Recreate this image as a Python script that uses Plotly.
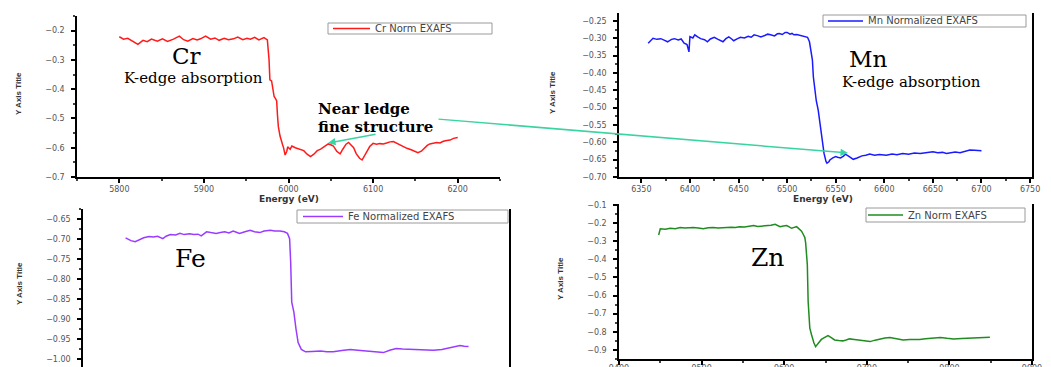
import plotly.graph_objects as go

# ---------------- data ----------------
cr_energy = [5800,5805,5810,5815,5822,5828,5833,5838,5845,5851,5857,5864,5871,5876,5881,5887,5892,5896,5902,5908,
             5913,5918,5924,5929,5935,5940,5946,5951,5955,5960,5965,5971,5975,5977,5978,5980,5981,5983,5985,5986,
             5987,5988,5990,5991,5993,5994,5996,5998,5999,6002,6004,6008,6011,6014,6018,6022,6026,6030,6034,6038,
             6042,6047,6050,6053,6057,6061,6064,6068,6071,6074,6077,6080,6084,6087,6090,6093,6096,6100,6104,6108,
             6112,6116,6120,6124,6128,6132,6136,6140,6145,6149,6153,6157,6161,6164,6167,6171,6175,6179,6183,6187,
             6191,6195,6200]
cr_norm = [-0.221,-0.229,-0.226,-0.236,-0.247,-0.233,-0.238,-0.229,-0.236,-0.228,-0.237,-0.229,-0.219,-0.231,-0.236,
           -0.227,-0.232,-0.228,-0.219,-0.229,-0.225,-0.233,-0.226,-0.231,-0.228,-0.222,-0.231,-0.226,-0.229,-0.223,
           -0.232,-0.224,-0.232,-0.299,-0.368,-0.372,-0.392,-0.425,-0.434,-0.440,-0.490,-0.528,-0.560,-0.573,-0.590,
           -0.598,-0.625,-0.612,-0.597,-0.605,-0.594,-0.600,-0.603,-0.608,-0.610,-0.622,-0.630,-0.622,-0.610,-0.605,
           -0.598,-0.587,-0.590,-0.594,-0.612,-0.621,-0.606,-0.588,-0.582,-0.590,-0.600,-0.620,-0.636,-0.642,-0.628,
           -0.610,-0.596,-0.585,-0.588,-0.586,-0.587,-0.584,-0.580,-0.579,-0.585,-0.590,-0.596,-0.602,-0.607,-0.612,
           -0.617,-0.612,-0.600,-0.592,-0.587,-0.585,-0.582,-0.584,-0.578,-0.575,-0.574,-0.568,-0.565]

mn_energy = [6357,6360,6362,6366,6370,6374,6377,6381,6384,6388,6391,6394,6397,6399,6400,6403,6405,6408,6411,6415,
             6418,6421,6425,6429,6432,6434,6437,6440,6443,6445,6449,6452,6456,6460,6463,6466,6470,6473,6477,6480,
             6483,6487,6490,6492,6495,6498,6500,6503,6505,6507,6510,6514,6518,6521,6523,6524,6526,6527,6529,6530,
             6532,6534,6536,6538,6540,6541,6543,6544,6547,6550,6552,6555,6558,6560,6564,6568,6572,6577,6581,6585,
             6590,6595,6602,6608,6613,6619,6625,6631,6637,6643,6647,6650,6655,6660,6664,6668,6673,6678,6683,6688,
             6693,6700]
mn_norm = [-0.314,-0.305,-0.300,-0.303,-0.301,-0.306,-0.310,-0.303,-0.301,-0.305,-0.302,-0.314,-0.318,-0.339,-0.295,
           -0.299,-0.290,-0.296,-0.301,-0.304,-0.310,-0.302,-0.297,-0.303,-0.308,-0.310,-0.301,-0.296,-0.302,-0.307,
           -0.301,-0.297,-0.299,-0.294,-0.297,-0.290,-0.293,-0.296,-0.292,-0.288,-0.290,-0.293,-0.287,-0.286,-0.289,
           -0.283,-0.283,-0.288,-0.286,-0.290,-0.289,-0.292,-0.293,-0.297,-0.310,-0.324,-0.362,-0.411,-0.459,-0.480,
           -0.507,-0.555,-0.593,-0.632,-0.655,-0.660,-0.656,-0.651,-0.645,-0.641,-0.643,-0.645,-0.640,-0.634,-0.641,
           -0.649,-0.645,-0.639,-0.637,-0.634,-0.637,-0.635,-0.637,-0.634,-0.636,-0.632,-0.634,-0.631,-0.632,-0.630,
           -0.627,-0.627,-0.630,-0.629,-0.632,-0.630,-0.628,-0.630,-0.625,-0.622,-0.623,-0.624]

fe_energy = [6960,6965,6969,6973,6977,6982,6986,6990,6995,6998,7002,7007,7011,7015,7020,7024,7028,7031,7036,7040,
             7045,7049,7053,7057,7061,7064,7067,7072,7077,7081,7086,7090,7096,7100,7105,7109,7112,7114,7115,7116,
             7118,7120,7122,7125,7129,7135,7143,7149,7155,7163,7171,7178,7186,7194,7202,7208,7214,7220,7227,7233,
             7241,7249,7257,7265,7270,7274,7278,7282]
fe_norm = [-0.697,-0.704,-0.707,-0.702,-0.697,-0.694,-0.695,-0.693,-0.699,-0.693,-0.689,-0.690,-0.686,-0.689,-0.687,
           -0.689,-0.688,-0.692,-0.682,-0.684,-0.686,-0.684,-0.682,-0.685,-0.680,-0.683,-0.686,-0.682,-0.678,-0.682,
           -0.684,-0.680,-0.678,-0.680,-0.680,-0.682,-0.686,-0.699,-0.758,-0.858,-0.883,-0.925,-0.959,-0.976,-0.982,
           -0.981,-0.980,-0.982,-0.982,-0.979,-0.976,-0.978,-0.980,-0.981,-0.984,-0.978,-0.974,-0.975,-0.976,-0.976,
           -0.977,-0.978,-0.976,-0.972,-0.968,-0.966,-0.968,-0.969]

zn_energy = [9448,9450,9456,9462,9468,9474,9480,9485,9490,9496,9502,9508,9514,9520,9525,9530,9536,9541,9546,9552,
             9557,9563,9568,9574,9579,9584,9589,9592,9595,9599,9603,9606,9609,9612,9615,9617,9619,9621,9623,9625,
             9626,9627,9628,9629,9630,9631,9633,9634,9636,9638,9640,9642,9645,9647,9650,9653,9657,9661,9666,9671,
             9675,9679,9685,9692,9698,9704,9710,9716,9722,9728,9736,9744,9752,9758,9764,9771,9780,9789,9797,9805,
             9815,9825,9835,9842,9849]
zn_norm = [-0.266,-0.232,-0.234,-0.229,-0.231,-0.225,-0.228,-0.226,-0.224,-0.227,-0.231,-0.226,-0.224,-0.227,-0.225,
           -0.225,-0.223,-0.224,-0.220,-0.222,-0.218,-0.214,-0.219,-0.217,-0.216,-0.212,-0.207,-0.213,-0.220,-0.216,
           -0.214,-0.221,-0.229,-0.224,-0.220,-0.228,-0.238,-0.245,-0.262,-0.280,-0.311,-0.370,-0.431,-0.633,-0.700,
           -0.780,-0.815,-0.836,-0.862,-0.882,-0.870,-0.854,-0.842,-0.836,-0.828,-0.821,-0.832,-0.845,-0.848,-0.850,
           -0.845,-0.839,-0.842,-0.845,-0.850,-0.854,-0.846,-0.839,-0.834,-0.832,-0.838,-0.845,-0.843,-0.844,-0.843,
           -0.838,-0.835,-0.832,-0.836,-0.839,-0.837,-0.836,-0.834,-0.832,-0.830]

series_names = ["Cr Norm EXAFS", "Mn Normalized EXAFS", "Fe Normalized EXAFS", "Zn Norm EXAFS"]
series_colors = ["#ff1a1a", "#1a1aff", "#9a3cff", "#1f8c1f"]

W, H = 1051, 367
def px(x): return x / W
def py(y): return (H - y) / H

fig = go.Figure()
data = [(cr_energy, cr_norm), (mn_energy, mn_norm), (fe_energy, fe_norm), (zn_energy, zn_norm)]
for i, ((xe, yv), name, col) in enumerate(zip(data, series_names, series_colors)):
    sfx = "" if i == 0 else str(i + 1)
    fig.add_trace(go.Scatter(x=xe, y=yv, mode="lines", name=name,
                             line=dict(color=col, width=1.5),
                             xaxis="x" + sfx, yaxis="y" + sfx, showlegend=False))

tickfont = dict(family="DejaVu Sans", size=8, color="#555555")

def xax(dom, rng, dtick, tick0, anchor, visible=True, standoff=0):
    d = dict(domain=dom, range=rng, dtick=dtick, tick0=tick0, anchor=anchor, automargin=False,
             showline=True, linecolor="black", linewidth=1.5, ticks="outside",
             ticklen=4, tickwidth=1.5, tickcolor="black", showgrid=False, zeroline=False,
             tickfont=tickfont, tickformat="d", ticklabelstandoff=standoff,
             minor=dict(dtick=dtick / 2, ticks="outside", ticklen=2, tickcolor="#444"))
    if not visible:
        d.update(showline=False, ticks="", showticklabels=False, minor=dict(ticks=""))
    return d

def yax(dom, rng, dtick, tick0, anchor, fmt, mirror):
    return dict(domain=dom, range=rng, dtick=dtick, tick0=tick0, anchor=anchor, automargin=False,
                showline=True, linecolor="black", linewidth=1.5, ticks="outside",
                ticklen=4, tickwidth=1.5, tickcolor="black", showgrid=False, zeroline=False,
                tickfont=tickfont, tickformat=fmt, mirror=mirror, ticklabelstandoff=5,
                minor=dict(dtick=dtick / 2, ticks="outside", ticklen=2, tickcolor="#444"))

fig.update_layout(
    width=W, height=H, margin=dict(l=0, r=0, t=0, b=0, pad=0),
    paper_bgcolor="white", plot_bgcolor="white", showlegend=False,
    xaxis=xax([px(77), px(500)], [5750, 6250], 100, 5800, "y"),
    yaxis=yax([py(177), py(16)], [-0.7, -0.15], 0.1, -0.7, "x", ".1f", False),
    xaxis2=xax([px(619), px(1032)], [6327, 6752], 50, 6350, "y2"),
    yaxis2=yax([py(177), py(13)], [-0.70, -0.227], 0.05, -0.70, "x2", ".2f", True),
    xaxis3=xax([px(83), px(509)], [6920, 7320], 100, 6900, "y3", visible=False),
    yaxis3=yax([0, py(209)], [-1.02, -0.625], 0.05, -1.0, "x3", ".2f", True),
    xaxis4=xax([px(619), px(1032)], [9400, 9900], 100, 9400, "y4", standoff=-3),
    yaxis4=yax([py(359), py(204)], [-0.95, -0.095], 0.1, -0.9, "x4", ".1f", True),
)

ann = []
shapes = []
def text(x, y, t, size, bold=False, family="DejaVu Serif", color="black", angle=0, xanchor="center"):
    ann.append(dict(x=px(x), y=py(y), xref="paper", yref="paper", text=("<b>%s</b>" % t) if bold else t,
                    showarrow=False, textangle=angle, xanchor=xanchor, yanchor="middle",
                    font=dict(family=family, size=size, color=color)))

# legend boxes (one per panel): box x0, x1, y0, y1, line x0, x1
legend_boxes = [(328, 492, 23, 34, 333, 370),
                (823, 1026, 15, 27, 828, 863),
                (297, 508, 210, 223, 303, 343),
                (866, 1025, 208, 222, 868, 903)]
for (bx0, bx1, by0, by1, lx0, lx1), name, col in zip(legend_boxes, series_names, series_colors):
    shapes.append(dict(type="rect", xref="paper", yref="paper", x0=px(bx0), x1=px(bx1), y0=py(by1), y1=py(by0),
                       line=dict(color="#9a9a9a", width=1), fillcolor="white", layer="above"))
    ym = (by0 + by1) / 2
    shapes.append(dict(type="line", xref="paper", yref="paper", x0=px(lx0), x1=px(lx1), y0=py(ym), y1=py(ym),
                       line=dict(color=col, width=1.5), layer="above"))
    text(lx1 + 3, ym, name, 10, family="DejaVu Sans", color="#444444", xanchor="left")

text(186, 56, "Cr", 23)
text(193, 78, "K-edge absorption", 15)
text(868, 59, "Mn", 23)
text(911, 82, "K-edge absorption", 15)
text(190, 258, "Fe", 25)
text(767, 257, "Zn", 25)
text(316, 109, "Near ledge", 15, bold=True, xanchor="left")
text(316, 127, "fine structure", 15, bold=True, xanchor="left")

axis_font = "DejaVu Sans"
text(289, 199, "Energy (eV)", 9, bold=True, family=axis_font, color="#333333")
text(823, 199, "Energy (eV)", 9, bold=True, family=axis_font, color="#333333")
for (x, y) in [(18, 94), (553, 93), (19, 284), (560, 279)]:
    text(x, y, "Y Axis Title", 8, bold=True, family="Liberation Sans Narrow, Liberation Sans", color="#333333", angle=-90)

arrow_col = "#3ad3a2"
ann.append(dict(x=px(328), y=py(143), xref="paper", yref="paper", ax=49, ay=-9,
                showarrow=True, arrowhead=2, arrowsize=1, arrowwidth=1.5, arrowcolor=arrow_col, text=""))
ann.append(dict(x=px(848), y=py(153), xref="paper", yref="paper", ax=-411, ay=-34,
                showarrow=True, arrowhead=2, arrowsize=1, arrowwidth=1.5, arrowcolor=arrow_col, text=""))

fig.update_layout(annotations=ann, shapes=shapes)
fig.write_html("out.html", config={"displayModeBar": False},
               post_script="document.body.style.margin='0';document.body.style.overflow='hidden';")
